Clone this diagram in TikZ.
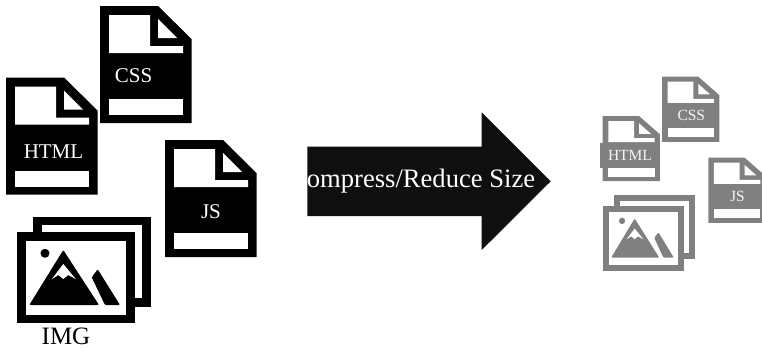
\documentclass[tikz,border=0pt]{standalone}
\usepackage{fontspec}
\setmainfont{Liberation Serif}
\tikzset{
  biglabel/.style={text=white,inner sep=0pt,font=\fontsize{21}{21}\selectfont},
  smalllabel/.style={text=white!92!gray,inner sep=0pt,font=\fontsize{15.5}{15.5}\selectfont},
  pics/docicon/.style={code={
    \fill[#1] (0,0) -- (58,0) -- (91.5,33) -- (91.5,117) -- (0,117) -- cycle;
    \fill[white] (9,9) -- (50,9) -- (50,40) -- (83,40) -- (83,47) -- (9,47) -- cycle;
    \fill[white] (58,13) -- (77,32) -- (58,32) -- cycle;
    \fill[white] (9,93) rectangle (83,109);
  }},
  pics/imgicon/.style={code={
    \fill[#1] (16.3,-15.6) rectangle (134,74.4);
    \fill[white] (25,-7.3) rectangle (125.3,66);
    \fill[#1] (0,0) rectangle (117.7,91);
    \fill[white] (9,8.7) rectangle (109,82.4);
    \fill[#1] (28,21) circle (4.5);
    \fill[#1,rounded corners=1pt] (46.3,17.7) -- (82,72.7) -- (12.3,72.7) -- cycle;
    \fill[white] (46.3,31.7) -- (59,47) -- (51.3,42.7) -- (46.3,46.7) -- (41.3,42.7) -- (34.7,47) -- cycle;
    \fill[#1,rounded corners=1pt] (80.7,37) -- (103,72.7) -- (88,72.7) -- (74.7,45) -- cycle;
  }}
}
\begin{document}
\begin{tikzpicture}[x=1pt,y=-1pt]
    \useasboundingbox (0,0) rectangle (762,348);

    % files before
    \foreach \x\y\t\tx\ty in {
        100/6/CSS/133.5/76,
        6/77.5/HTML/53.5/152,
        165/140/JS/211/211.7}{
      \pic at (\x,\y) {docicon=black};
      \node[biglabel] (big\t) at (\tx,\ty) {\t};
    }
    \pic at (17,232.3) {imgicon=black};
    \node[inner sep=0pt,font=\fontsize{25}{25}\selectfont] (bigIMG) at (66,336.5) {IMG};

    % arrow
    \fill[black!94] (307.3,146.7) -- (481.7,146.7) -- (481.7,112.3) -- (550.7,181.3)
      -- (481.7,250) -- (481.7,216) -- (307.3,216) -- cycle;
    \node[text=white,inner sep=0pt,font=\fontsize{26.6}{26.6}\selectfont] (compress) at (421,181.5) {ompress/Reduce Size};

    % files after
    \foreach \x\y\t\tx\ty in {
        662/76.7/CSS/691.3/115,
        708.3/157.7/JS/737.5/196}{
      \pic[xscale=.626,yscale=.556] at (\x,\y) {docicon=black!50};
      \node[smalllabel] (small\t) at (\tx,\ty) {\t};
    }
    \pic[xscale=.626,yscale=.556] at (602.7,116) {docicon=black!50};
    \node[smalllabel,fill=black!50,minimum width=60pt,minimum height=25pt] (smallHTML) at (630,155) {HTML};
    \pic[xscale=.69,yscale=.71] at (602.7,206) {imgicon=black!50};
\end{tikzpicture}
\end{document}
